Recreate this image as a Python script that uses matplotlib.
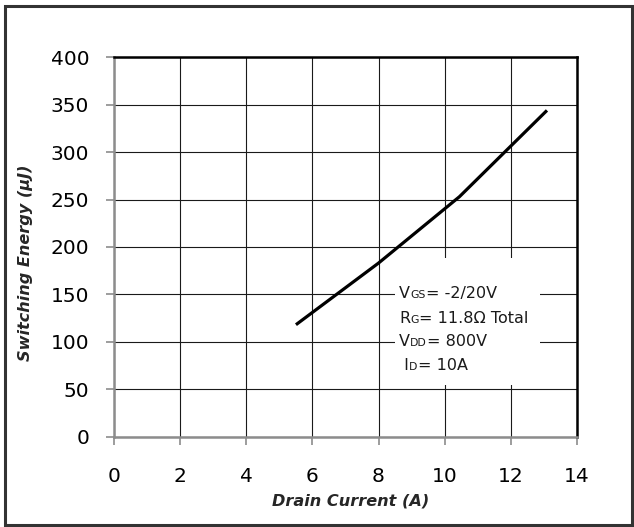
import matplotlib
matplotlib.use("Agg")
import matplotlib.pyplot as plt
from matplotlib.patches import Rectangle

# Data
drain_current = [5.5, 8.0, 10.45, 13.1]
switching_energy = [118, 183, 253, 344]

x_ticks = [0, 2, 4, 6, 8, 10, 12, 14]
y_ticks = [0, 50, 100, 150, 200, 250, 300, 350, 400]

# test-condition box (text pieces: (main, subscript, rest))
conditions = [
    ("V", "GS", "= -2/20V"),
    ("R", "G", "= 11.8\u03a9 Total"),
    ("V", "DD", "= 800V"),
    (" I", "D", "= 10A"),
]

W, H = 634, 527
fig = plt.figure(figsize=(W / 100, H / 100), dpi=100)
ax = fig.add_axes([114.3 / W, 1 - 436.6 / H, (576.7 - 114.3) / W, (436.6 - 57.3) / H])

ax.plot(drain_current, switching_energy, color="black", lw=2.3, solid_capstyle="butt", zorder=5)

ax.set_xlim(0, 14)
ax.set_ylim(0, 400)
ax.set_xticks(x_ticks)
ax.set_yticks(y_ticks)
ax.grid(True, color="#1a1a1a", lw=0.8, zorder=1)
ax.set_axisbelow(True)

ax.tick_params(axis="both", direction="out", length=6, width=1.2, color="#8c8c8c",
               labelsize=14.5, labelcolor="black")
ax.tick_params(axis="x", pad=16)
ax.tick_params(axis="y", pad=12)

for side in ("left", "bottom"):
    ax.spines[side].set_color("#8c8c8c")
    ax.spines[side].set_linewidth(1.8)
for side in ("top", "right"):
    ax.spines[side].set_color("black")
    ax.spines[side].set_linewidth(1.8)

# white box hiding the grid behind the test conditions
ax.add_patch(Rectangle((8.5, 54.4), 12.89 - 8.5, 188 - 54.4, facecolor="white",
                       edgecolor="none", zorder=2))

# axis titles
fig.text(351 / W, 1 - 506 / H, "Drain Current (A)", fontsize=11.6, fontweight="bold",
         fontstyle="italic", color="#262626", ha="center", va="baseline")
fig.text(26 / W, 1 - 262.6 / H, "Switching Energy (\u03bcJ)", fontsize=11.6, fontweight="bold",
         fontstyle="italic", color="#262626", ha="center", va="center", rotation=90)

# condition text with same-baseline small subscripts
renderer = fig.canvas.get_renderer()
baselines = [298.3, 322.7, 346.3, 370.0]
for (main, sub, rest), yb in zip(conditions, baselines):
    x = 399.3
    for piece, size in ((main, 11.5), (sub, 7.8), (rest, 11.5)):
        t = fig.text(x / W, 1 - yb / H, piece, fontsize=size, color="#1a1a1a",
                     ha="left", va="baseline")
        bb = t.get_window_extent(renderer)
        x = bb.x1

# outer frame
fig.add_artist(Rectangle((4.5 / W, 1 - 525 / H), (632 - 4.5) / W, (525 - 5.5) / H,
                         transform=fig.transFigure, fill=False, edgecolor="#333333",
                         lw=2.2))

fig.savefig("out.png", dpi=100)
